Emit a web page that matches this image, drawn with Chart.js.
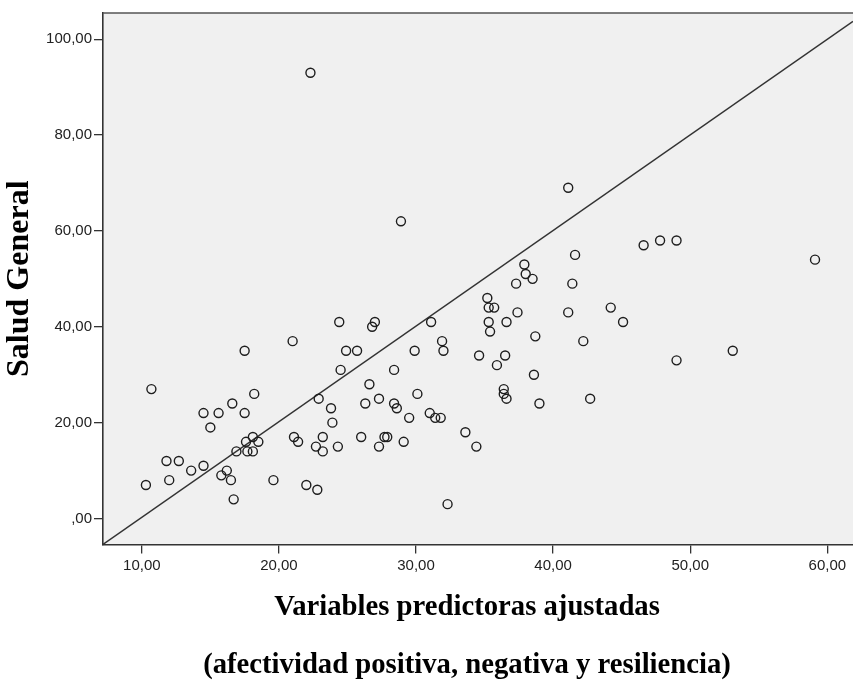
<!DOCTYPE html>
<html>
<head>
<meta charset="utf-8">
<script src="https://cdn.jsdelivr.net/npm/chart.js@4.4.0/dist/chart.umd.min.js"></script>
<style>
  html, body { margin: 0; padding: 0; background: #fff; overflow: hidden; }
</style>
</head>
<body>
<canvas id="scatterChart" width="853" height="680"></canvas>
<script>
// Variables predictoras ajustadas (eje x)
const predictores = [
    10.3, 10.7, 11.8, 12.0, 12.7, 13.6, 14.5, 14.5, 15.0, 15.6,
    15.8, 16.2, 16.5, 16.6, 16.7, 16.9, 17.5, 17.5, 17.6, 17.7,
    18.1, 18.2, 18.1, 18.5, 19.6, 21.0, 21.1, 21.4, 22.0, 22.3,
    22.7, 22.8, 22.9, 23.2, 23.2, 23.8, 23.9, 24.4, 24.3, 24.5,
    24.9, 25.7, 26.0, 26.3, 26.6, 26.8, 27.0, 27.3, 27.3, 27.7,
    27.9, 28.4, 28.4, 28.6, 28.9, 29.1, 29.5, 29.9, 30.1, 31.0,
    31.1, 31.4, 31.8, 31.9, 32.0, 32.3, 33.6, 34.4, 34.6, 35.2,
    35.3, 35.3, 35.4, 35.7, 35.9, 36.4, 36.4, 36.5, 36.6, 36.6,
    37.3, 37.4, 37.9, 38.0, 38.5, 38.6, 38.7, 39.0, 41.1, 41.1,
    41.4, 41.6, 42.2, 42.7, 44.2, 45.1, 46.6, 47.8, 49.0, 49.0,
    53.1, 59.1
];
// Salud General (eje y)
const saludGeneral = [
    7, 27, 12, 8, 12, 10, 11, 22, 19, 22,
    9, 10, 8, 24, 4, 14, 22, 35, 16, 14,
    17, 26, 14, 16, 8, 37, 17, 16, 7, 93,
    15, 6, 25, 14, 17, 23, 20, 41, 15, 31,
    35, 35, 17, 24, 28, 40, 41, 25, 15, 17,
    17, 31, 24, 23, 62, 16, 21, 35, 26, 22,
    41, 21, 21, 37, 35, 3, 18, 15, 34, 46,
    44, 41, 39, 44, 32, 27, 26, 34, 41, 25,
    49, 43, 53, 51, 50, 30, 38, 24, 69, 43,
    49, 55, 37, 25, 44, 41, 57, 58, 58, 33,
    35, 54
];
// Linea de referencia (extremos)
const lineaX = [7.17, 61.87];
const lineaY = [-5.4, 103.7];

const xTickValues = [10, 20, 30, 40, 50, 60];
const xTickLabels = ['10,00', '20,00', '30,00', '40,00', '50,00', '60,00'];
const yTickValues = [0, 20, 40, 60, 80, 100];
const yTickLabels = [',00', '20,00', '40,00', '60,00', '80,00', '100,00'];

const puntos = predictores.map((x, i) => ({ x: x, y: saludGeneral[i] }));
const linea = lineaX.map((x, i) => ({ x: x, y: lineaY[i] }));

// Fondo gris del area de trazado y borde superior
const plotFrame = {
    id: 'plotFrame',
    beforeDraw(chart) {
        const { ctx, chartArea: a } = chart;
        ctx.save();
        ctx.fillStyle = '#f0f0f0';
        ctx.fillRect(a.left, a.top, a.right - a.left, a.bottom - a.top);
        ctx.restore();
    },
    afterDraw(chart) {
        const { ctx, chartArea: a } = chart;
        ctx.save();
        ctx.strokeStyle = '#555';
        ctx.lineWidth = 1.6;
        ctx.beginPath();
        ctx.moveTo(a.left, a.top);
        ctx.lineTo(a.right, a.top);
        ctx.stroke();
        ctx.restore();
    }
};

const tickFont = { family: 'Liberation Sans', size: 15 };
const titleFont = { family: 'Liberation Serif', size: 28.7, weight: 'bold', lineHeight: 1 };

const ctx = document.getElementById('scatterChart').getContext('2d');
new Chart(ctx, {
    type: 'scatter',
    data: {
        datasets: [{
            label: 'Salud General',
            data: puntos,
            pointRadius: 4.5,
            pointBorderWidth: 1.4,
            pointBorderColor: '#1e1e1e',
            pointBackgroundColor: 'rgba(0,0,0,0)',
            pointHoverRadius: 4.5
        }, {
            type: 'line',
            label: 'Referencia',
            data: linea,
            borderColor: '#333',
            borderWidth: 1.4,
            pointRadius: 0,
            fill: false
        }]
    },
    options: {
        responsive: false,
        animation: false,
        events: [],
        // el grafico original esta recortado a la derecha; el padding negativo
        // desplaza el centro de los titulos inferiores
        layout: { autoPadding: false, padding: { top: 13, right: -81, bottom: 0, left: 0 } },
        plugins: {
            legend: { display: false },
            tooltip: { enabled: false },
            subtitle: {
                display: true,
                position: 'bottom',
                text: 'Variables predictoras ajustadas',
                font: titleFont,
                color: '#000',
                padding: { top: 13, bottom: 0 }
            },
            title: {
                display: true,
                position: 'bottom',
                text: '(afectividad positiva, negativa y resiliencia)',
                font: titleFont,
                color: '#000',
                padding: { top: 28.9, bottom: 0.3 }
            }
        },
        scales: {
            x: {
                type: 'linear',
                min: 7.17,
                max: 61.87,
                afterBuildTicks: s => { s.ticks = xTickValues.map(v => ({ value: v })); },
                afterFit: s => { s.height = 36; s.paddingLeft = 0; s.paddingRight = 0; },
                grid: { drawOnChartArea: false, drawTicks: true, tickLength: 9, color: '#333', lineWidth: 1.3 },
                border: { display: true, color: '#333', width: 1.6 },
                ticks: {
                    callback: v => xTickLabels[xTickValues.indexOf(v)],
                    font: tickFont,
                    color: '#222',
                    padding: 3,
                    maxRotation: 0,
                    autoSkip: false
                }
            },
            y: {
                type: 'linear',
                min: -5.4,
                max: 105.46,
                afterBuildTicks: s => { s.ticks = yTickValues.map(v => ({ value: v })); },
                afterFit: s => { s.width = 103; s.paddingTop = 0; s.paddingBottom = 0; },
                grid: { drawOnChartArea: false, drawTicks: true, tickLength: 9, color: '#333', lineWidth: 1.3 },
                border: { display: true, color: '#333', width: 1.6 },
                ticks: {
                    callback: v => yTickLabels[yTickValues.indexOf(v)],
                    font: tickFont,
                    color: '#222',
                    padding: 2,
                    autoSkip: false
                },
                title: {
                    display: true,
                    text: 'Salud General',
                    font: { family: 'Liberation Serif', size: 32, weight: 'bold', lineHeight: 1.2 },
                    color: '#000',
                    padding: { top: 1, bottom: 0 }
                }
            }
        }
    },
    plugins: [plotFrame]
});
</script>
</body>
</html>
